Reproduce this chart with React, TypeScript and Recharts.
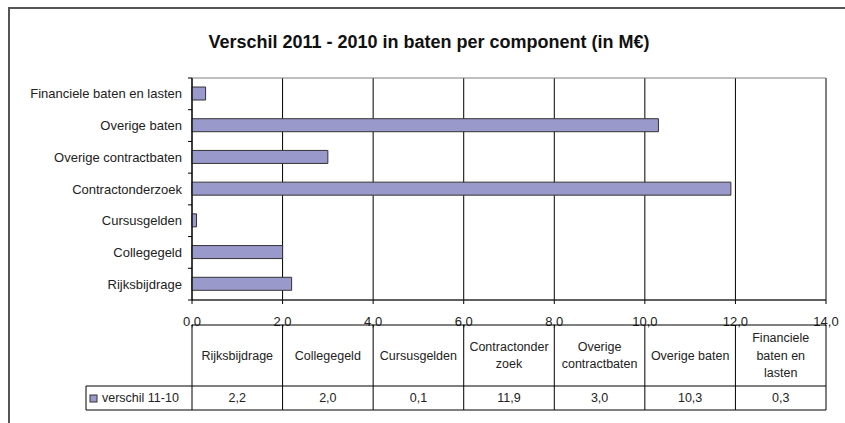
import React from 'react'
import { BarChart, Bar, XAxis, YAxis, CartesianGrid, ReferenceArea } from 'recharts'

const components = [
    'Rijksbijdrage',
    'Collegegeld',
    'Cursusgelden',
    'Contractonderzoek',
    'Overige contractbaten',
    'Overige baten',
    'Financiele baten en lasten',
]
// how the table header wraps each component name
const tableHeaders = [
    ['Rijksbijdrage'],
    ['Collegegeld'],
    ['Cursusgelden'],
    ['Contractonder', 'zoek'],
    ['Overige', 'contractbaten'],
    ['Overige baten'],
    ['Financiele', 'baten en', 'lasten'],
]
const verschil = [2.2, 2.0, 0.1, 11.9, 3.0, 10.3, 0.3]
const xTicks = [0, 2, 4, 6, 8, 10, 12, 14]
const seriesName = 'verschil 11-10'
const title = 'Verschil 2011 - 2010 in baten per component (in M€)'

const data = components.map((name, i) => ({ name, header: tableHeaders[i], value: verschil[i] }))

const fmt = (v: number) => v.toFixed(1).replace('.', ',')

const FONT = '"Liberation Sans", Arial, sans-serif'
const BAR_FILL = '#9999CC'
const BAR_STROKE = '#333'

const HEADER_H = 61
const ROW_H = 24
const LEGEND_W = 106

function CategoryTick(props: any) {
    const { x, y, payload, index, height, visibleTicksCount } = props
    const band = height / visibleTicksCount
    const edge = x + 10
    return (
        <g>
            <text x={x} y={y} textAnchor="end" dominantBaseline="central" fontSize={13} fontFamily={FONT} fill="#222">
                {payload.value}
            </text>
            <line x1={edge - 4} x2={edge} y1={y - band / 2} y2={y - band / 2} stroke="#000" />
            {index === 0 && <line x1={edge - 4} x2={edge} y1={y + band / 2} y2={y + band / 2} stroke="#000" />}
        </g>
    )
}

function TableTick(props: any) {
    const { x, y, index, width, visibleTicksCount } = props
    const band = width / visibleTicksCount
    const left = x - band / 2
    const right = x + band / 2
    const top = y
    const mid = y + HEADER_H
    const bottom = mid + ROW_H
    const row = data[index]
    const lines = row.header
    const hc = (top + mid) / 2
    const lh = 17.5
    return (
        <g fontFamily={FONT} fontSize={12.5} fill="#222">
            <line x1={left} x2={right} y1={top} y2={top} stroke="#000" />
            <line x1={left} x2={right} y1={mid} y2={mid} stroke="#000" />
            <line x1={left} x2={right} y1={bottom} y2={bottom} stroke="#000" />
            <line x1={right} x2={right} y1={top} y2={bottom} stroke="#000" />
            {index === 0 && <line x1={left} x2={left} y1={top} y2={bottom} stroke="#000" />}
            {lines.map((t: string, k: number) => (
                <text key={k} x={x} y={hc + (k - (lines.length - 1) / 2) * lh} textAnchor="middle" dominantBaseline="central">
                    {t}
                </text>
            ))}
            <text x={x} y={(mid + bottom) / 2} textAnchor="middle" dominantBaseline="central">
                {fmt(row.value)}
            </text>
            {index === 0 && (
                <g>
                    <line x1={left - LEGEND_W} x2={left} y1={mid} y2={mid} stroke="#000" />
                    <line x1={left - LEGEND_W} x2={left} y1={bottom} y2={bottom} stroke="#000" />
                    <line x1={left - LEGEND_W} x2={left - LEGEND_W} y1={mid} y2={bottom} stroke="#000" />
                    <rect x={left - LEGEND_W + 4} y={(mid + bottom) / 2 - 3} width={7} height={7} fill={BAR_FILL} stroke={BAR_STROKE} />
                    <text x={left - LEGEND_W + 16} y={(mid + bottom) / 2} dominantBaseline="central">
                        {seriesName}
                    </text>
                </g>
            )}
        </g>
    )
}

export default function App() {
    return (
        <div style={{ position: 'absolute', left: 0, top: 0, width: 845, height: 423, overflow: 'hidden', background: '#fff' }}>
            {/* outer chart frame, cropped by the picture */}
            <div style={{ position: 'absolute', left: 8, top: 7, width: 900, height: 500, borderLeft: '2px solid #555', borderTop: '2px solid #555' }} />
            <div style={{ position: 'absolute', left: 0, top: 32, width: 858, textAlign: 'center', fontFamily: FONT, fontWeight: 'bold', fontSize: 18, color: '#111' }}>
                {title}
            </div>
            <div style={{ position: 'absolute', left: 0, top: 0 }}>
                <BarChart
                    width={845}
                    height={423}
                    data={data}
                    layout="vertical"
                    margin={{ top: 78, right: 19, bottom: 13, left: 0 }}
                    barSize={13}
                >
                    <CartesianGrid xAxisId="a_val" yAxisId="cat" horizontal={false} vertical stroke="#000" />
                    <ReferenceArea xAxisId="a_val" yAxisId="cat" x1={0} x2={14} fill="none" stroke="#808080" />
                    <XAxis
                        xAxisId="a_val"
                        type="number"
                        domain={[0, 14]}
                        ticks={xTicks}
                        tickFormatter={fmt}
                        height={25}
                        tickSize={4}
                        tickMargin={13}
                        stroke="#000"
                        tick={{ fontSize: 13, fontFamily: FONT, fill: '#222' }}
                        interval={0}
                    />
                    <XAxis
                        xAxisId="b_table"
                        type="category"
                        dataKey="name"
                        height={85}
                        tickSize={0}
                        tickMargin={0}
                        axisLine={false}
                        tickLine={false}
                        interval={0}
                        tick={<TableTick />}
                    />
                    <YAxis
                        yAxisId="cat"
                        type="category"
                        dataKey="name"
                        width={192}
                        reversed
                        interval={0}
                        tickSize={0}
                        tickMargin={10}
                        tickLine={false}
                        stroke="#000"
                        tick={<CategoryTick />}
                    />
                    <Bar
                        xAxisId="a_val"
                        yAxisId="cat"
                        dataKey="value"
                        name={seriesName}
                        fill={BAR_FILL}
                        stroke={BAR_STROKE}
                        strokeWidth={1}
                        isAnimationActive={false}
                    />
                </BarChart>
            </div>
        </div>
    )
}
